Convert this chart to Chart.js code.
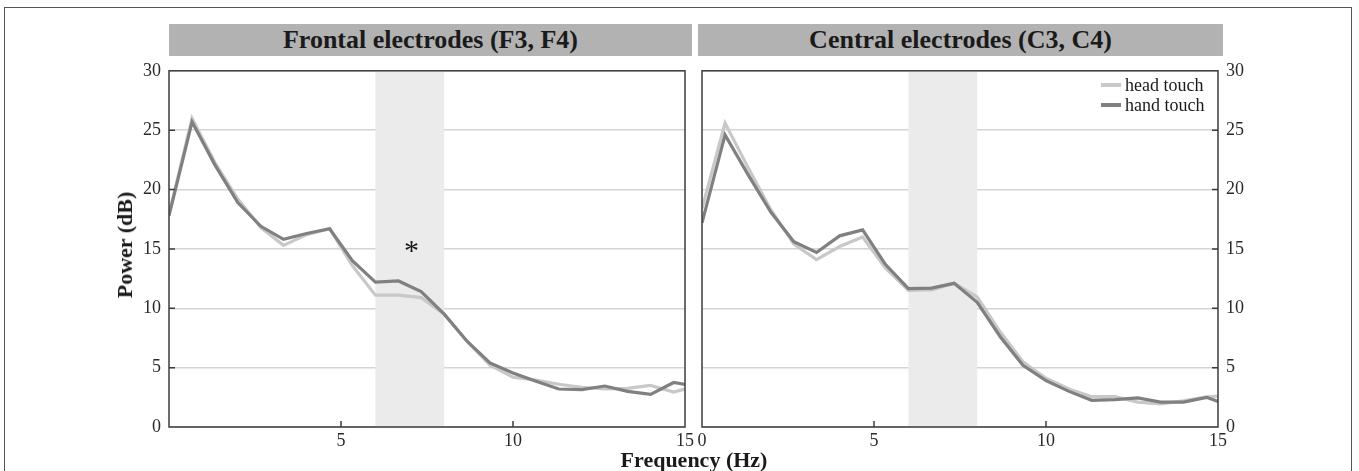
<!DOCTYPE html>
<html>
<head>
<meta charset="utf-8">
<script src="https://cdn.jsdelivr.net/npm/chart.js@4/dist/chart.umd.min.js"></script>
<style>
  html, body { margin: 0; padding: 0; background: #fff; }
  body { width: 1359px; height: 471px; position: relative; overflow: hidden; font-family: "Liberation Serif", "Times New Roman", serif; color: #1a1a1a; }
  .frame { position: absolute; left: 4px; top: 7px; width: 1348px; height: 480px; border: 1.5px solid #555; box-sizing: border-box; }
  .title-bar { position: absolute; top: 24px; height: 32px; line-height: 32px; background: #b2b2b2; text-align: center; font-weight: bold; font-size: 26px; }
  canvas { position: absolute; }
  .axis-title { position: absolute; font-weight: bold; font-size: 22px; white-space: nowrap; }
  .legend { position: absolute; left: 1101px; top: 75px; font-size: 18px; }
  .legend-row { height: 20px; line-height: 20px; display: flex; align-items: center; }
  .legend-swatch { width: 20px; height: 4px; margin-right: 4px; }
</style>
</head>
<body>
<div class="frame"></div>
<div class="title-bar" style="left:169px; width:523px;">Frontal electrodes (F3, F4)</div>
<div class="title-bar" style="left:698px; width:525px;">Central electrodes (C3, C4)</div>

<canvas id="frontal-chart" width="573" height="400" style="left:124px; top:52px;"></canvas>
<canvas id="central-chart" width="573" height="400" style="left:690px; top:52px;"></canvas>

<div class="axis-title" style="left:125px; top:245px; transform: translate(-50%, -50%) rotate(-90deg);">Power (dB)</div>
<div class="axis-title" style="left:694px; top:460px; transform: translate(-50%, -50%);">Frequency (Hz)</div>

<div class="legend">
  <div class="legend-row"><span class="legend-swatch" style="background:#c8c8c8"></span>head touch</div>
  <div class="legend-row"><span class="legend-swatch" style="background:#808080"></span>hand touch</div>
</div>

<script>
const frequencies = [0, 0.67, 1.33, 2, 2.67, 3.33, 4, 4.67, 5.33, 6, 6.67, 7.33, 8, 8.67, 9.33, 10, 10.67, 11.33, 12, 12.67, 13.33, 14, 14.67, 15.33];

const frontalHead = [17.9, 26.0, 22.3, 19.2, 16.8, 15.3, 16.2, 16.7, 13.6, 11.1, 11.1, 10.9, 9.5, 7.2, 5.2, 4.2, 3.95, 3.6, 3.35, 3.2, 3.25, 3.5, 2.95, 3.45];
const frontalHand = [17.8, 25.7, 22.1, 18.9, 16.9, 15.8, 16.3, 16.7, 14.0, 12.2, 12.3, 11.4, 9.5, 7.2, 5.4, 4.55, 3.85, 3.2, 3.15, 3.45, 3.0, 2.75, 3.75, 3.45];

const centralHead = [18.4, 25.6, 21.9, 18.3, 15.4, 14.1, 15.2, 16.0, 13.4, 11.5, 11.55, 12.1, 10.95, 8.0, 5.5, 4.1, 3.2, 2.55, 2.55, 2.1, 1.95, 2.2, 2.55, 2.65];
const centralHand = [17.2, 24.6, 21.3, 18.1, 15.6, 14.7, 16.1, 16.6, 13.7, 11.65, 11.7, 12.1, 10.5, 7.6, 5.2, 3.9, 3.0, 2.25, 2.3, 2.45, 2.1, 2.1, 2.5, 1.8];

const xTicks = [0, 5, 10, 15];
const yTicks = [0, 5, 10, 15, 20, 25, 30];
const thetaBand = [6, 8];
const frontalMarker = { x: 7.05, y: 15.1, text: "*" };

const HEAD_COLOR = "#c8c8c8";
const HAND_COLOR = "#808080";
const TICK_FONT = { family: "'Liberation Serif', 'Times New Roman', serif", size: 18 };

function toPoints(values) {
  return values.map((value, index) => ({ x: frequencies[index], y: value }));
}

const bandPlugin = {
  id: "band",
  beforeDatasetsDraw(chart) {
    const { ctx, chartArea, scales } = chart;
    const left = scales.x.getPixelForValue(thetaBand[0]);
    const right = scales.x.getPixelForValue(thetaBand[1]);
    ctx.save();
    ctx.fillStyle = "#ebebeb";
    ctx.fillRect(left, chartArea.top, right - left, chartArea.bottom - chartArea.top);
    ctx.restore();
  }
};

const framePlugin = {
  id: "frame",
  afterDatasetsDraw(chart) {
    const { ctx, chartArea, scales } = chart;
    const yOnRight = scales.y.position === "right";
    ctx.save();
    ctx.strokeStyle = "#3c3c3c";
    ctx.lineWidth = 1.5;
    ctx.strokeRect(chartArea.left, chartArea.top, chartArea.right - chartArea.left, chartArea.bottom - chartArea.top);

    // small inward tick marks
    ctx.beginPath();
    xTicks.slice(1, -1).forEach((value) => {
      const x = scales.x.getPixelForValue(value);
      ctx.moveTo(x, chartArea.bottom);
      ctx.lineTo(x, chartArea.bottom - 6);
    });
    yTicks.slice(1, -1).forEach((value) => {
      const y = scales.y.getPixelForValue(value);
      const edge = yOnRight ? chartArea.right : chartArea.left;
      ctx.moveTo(edge, y);
      ctx.lineTo(yOnRight ? edge - 6 : edge + 6, y);
    });
    ctx.stroke();
    ctx.restore();
  }
};

const markerPlugin = {
  id: "marker",
  afterDatasetsDraw(chart, args, options) {
    if (!options.point) {
      return;
    }
    const { ctx, scales } = chart;
    ctx.save();
    ctx.fillStyle = "#1a1a1a";
    ctx.font = "30px 'Liberation Serif', serif";
    ctx.textAlign = "center";
    ctx.textBaseline = "middle";
    ctx.fillText(options.point.text, scales.x.getPixelForValue(options.point.x), scales.y.getPixelForValue(options.point.y) + 4);
    ctx.restore();
  }
};

function createPanel(canvas, headValues, handValues, yPosition, showZeroX, marker) {
  return new Chart(canvas, {
    type: "line",
    data: {
      datasets: [
        {
          label: "head touch",
          data: toPoints(headValues),
          borderColor: HEAD_COLOR,
          borderWidth: 3.2,
          pointRadius: 0,
          tension: 0,
          order: 1
        },
        {
          label: "hand touch",
          data: toPoints(handValues),
          borderColor: HAND_COLOR,
          borderWidth: 3.2,
          pointRadius: 0,
          tension: 0,
          order: 0
        }
      ]
    },
    options: {
      responsive: false,
      animation: false,
      layout: {
        padding: yPosition === "left" ? { left: 0, right: 12, top: 10, bottom: 0 } : { left: 12, right: 0, top: 10, bottom: 0 }
      },
      plugins: {
        legend: { display: false },
        tooltip: { enabled: false },
        marker: { point: marker }
      },
      scales: {
        x: {
          type: "linear",
          min: 0,
          max: 15,
          border: { display: false },
          grid: { display: false, drawTicks: false },
          afterBuildTicks(axis) {
            axis.ticks = xTicks.map((value) => ({ value }));
          },
          afterFit(axis) {
            axis.height = 25;
          },
          ticks: {
            color: "#2a2a2a",
            font: TICK_FONT,
            padding: 3,
            maxRotation: 0,
            callback(value) {
              return value === 0 && !showZeroX ? "" : value;
            }
          }
        },
        y: {
          position: yPosition,
          min: 0,
          max: 30,
          border: { display: false },
          grid: { color: "#d4d4d4", lineWidth: 1.5, drawTicks: false },
          afterBuildTicks(axis) {
            axis.ticks = yTicks.map((value) => ({ value }));
          },
          afterFit(axis) {
            axis.width = 45;
          },
          ticks: {
            color: "#2a2a2a",
            font: TICK_FONT,
            padding: 8
          }
        }
      }
    },
    plugins: [bandPlugin, framePlugin, markerPlugin]
  });
}

createPanel(document.getElementById("frontal-chart"), frontalHead, frontalHand, "left", false, frontalMarker);
createPanel(document.getElementById("central-chart"), centralHead, centralHand, "right", true, null);
</script>
</body>
</html>
